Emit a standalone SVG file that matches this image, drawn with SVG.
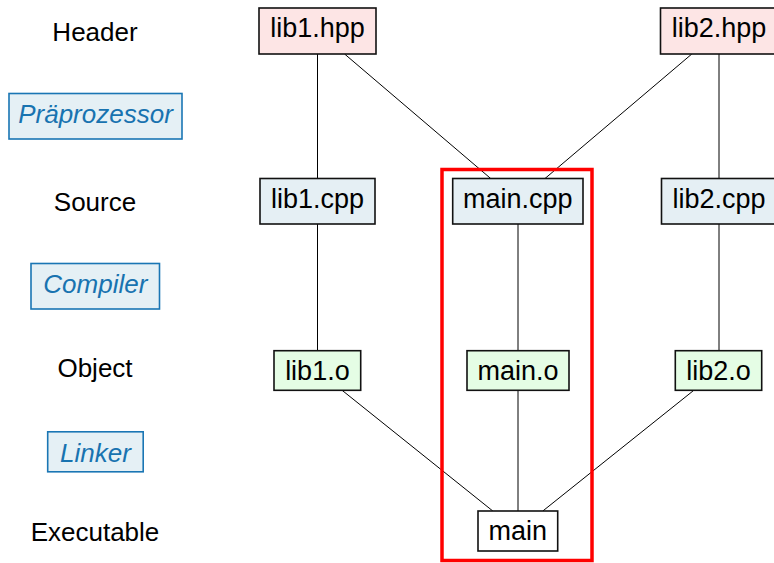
<svg xmlns="http://www.w3.org/2000/svg" width="774" height="563" viewBox="0 0 774 563">
<style>
  .lbl { font-family: "Liberation Sans", Arial, sans-serif; font-size: 26px; fill: #000; text-anchor: middle; }
  .tool rect { fill: #e5f0f5; stroke: #1a76b4; stroke-width: 1.6; }
  .tool text { font-family: "Liberation Sans", Arial, sans-serif; font-size: 26px; font-style: italic; fill: #1873b0; text-anchor: middle; }
  .node rect { stroke: #111; stroke-width: 1.6; }
  .node text { font-family: "Liberation Sans", Arial, sans-serif; font-size: 27px; fill: #000; text-anchor: middle; }
  .hdr rect { fill: #fde5e5; }
  .src rect { fill: #e5eff4; }
  .obj rect { fill: #e5fde5; }
  .exe rect { fill: #ffffff; }
  .edges line { stroke: #000; stroke-width: 1; }
</style>
<rect width="774" height="563" fill="#fff"/>

<g id="labels">
  <text class="lbl" x="95" y="40.7">Header</text>
  <text class="lbl" x="95" y="211">Source</text>
  <text class="lbl" x="95" y="377.3">Object</text>
  <text class="lbl" x="95" y="540.7">Executable</text>
</g>

<g id="tool-praeprozessor" class="tool">
  <rect x="9" y="93.5" width="173" height="45.5"/>
  <text x="95.5" y="123.3">Präprozessor</text>
</g>
<g id="tool-compiler" class="tool">
  <rect x="31" y="263.5" width="128.5" height="45.5"/>
  <text x="95.3" y="293.3">Compiler</text>
</g>
<g id="tool-linker" class="tool">
  <rect x="47.7" y="431.8" width="95.5" height="40"/>
  <text x="95.5" y="461.7">Linker</text>
</g>

<g id="edges" class="edges">
  <line x1="317.5" y1="54" x2="317.5" y2="178.5"/>
  <line x1="344.6" y1="54" x2="490.7" y2="178.5"/>
  <line x1="691.8" y1="54" x2="545" y2="178.5"/>
  <line x1="719" y1="54" x2="719" y2="178.5"/>
  <line x1="317.5" y1="224" x2="317.5" y2="350.7"/>
  <line x1="518" y1="224" x2="518" y2="350.7"/>
  <line x1="719" y1="224" x2="719" y2="350.7"/>
  <line x1="342.1" y1="390.3" x2="492.8" y2="511"/>
  <line x1="518" y1="390.3" x2="518" y2="511"/>
  <line x1="693.8" y1="390.3" x2="542.8" y2="511"/>
</g>

<g id="lib1-hpp" class="node hdr">
  <rect x="259" y="8" width="117" height="46"/>
  <text x="317.5" y="37">lib1.hpp</text>
</g>
<g id="lib2-hpp" class="node hdr">
  <rect x="660.5" y="8" width="117" height="46"/>
  <text x="719" y="37">lib2.hpp</text>
</g>
<g id="lib1-cpp" class="node src">
  <rect x="260" y="178.5" width="115" height="45.5"/>
  <text x="317.5" y="207.6">lib1.cpp</text>
</g>
<g id="main-cpp" class="node src">
  <rect x="452.7" y="178.5" width="130.3" height="45.5"/>
  <text x="517.8" y="207.6">main.cpp</text>
</g>
<g id="lib2-cpp" class="node src">
  <rect x="661.5" y="178.5" width="115" height="45.5"/>
  <text x="719" y="207.6">lib2.cpp</text>
</g>
<g id="lib1-o" class="node obj">
  <rect x="274" y="350.7" width="86.7" height="39.6"/>
  <text x="317.4" y="380.2">lib1.o</text>
</g>
<g id="main-o" class="node obj">
  <rect x="467" y="350.7" width="102" height="39.6"/>
  <text x="518" y="380.2">main.o</text>
</g>
<g id="lib2-o" class="node obj">
  <rect x="675.3" y="350.7" width="86.4" height="39.6"/>
  <text x="718.5" y="380.2">lib2.o</text>
</g>
<g id="main" class="node exe">
  <rect x="478" y="511" width="79.7" height="40"/>
  <text x="517.8" y="539.5">main</text>
</g>

<g id="highlight">
  <rect x="442" y="169.5" width="150" height="391" fill="none" stroke="#ff0000" stroke-width="3.5"/>
</g>
</svg>
